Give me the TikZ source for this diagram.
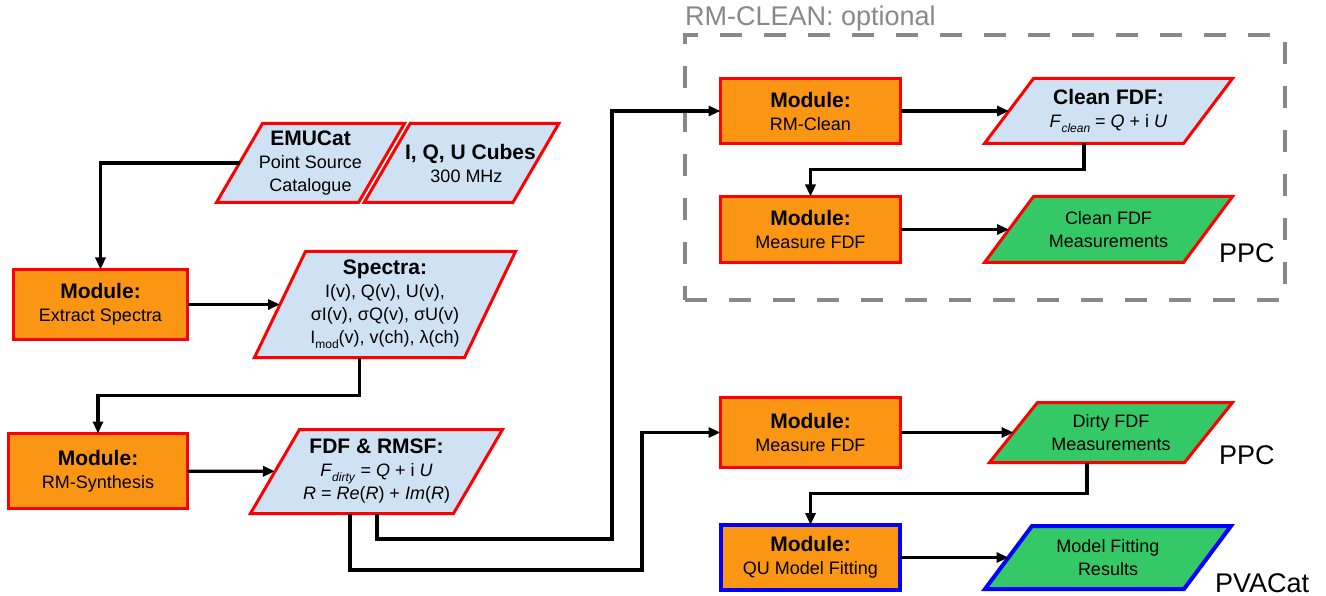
\documentclass[tikz,border=0pt]{standalone}
\usepackage{fontspec}
\setmainfont{Liberation Sans}
\usetikzlibrary{arrows.meta,calc,backgrounds}

\definecolor{modorange}{RGB}{250,150,20}
\definecolor{datablue}{RGB}{207,226,243}
\definecolor{prodgreen}{RGB}{53,200,103}
\definecolor{fitblue}{RGB}{0,0,255}
\definecolor{framegray}{RGB}{136,136,136}

% bold first line of a box
\newcommand\hd[1]{{\fontsize{21}{23}\selectfont\bfseries #1}}
% small lowered subscript
\newcommand\lowsub[1]{\raisebox{-5pt}{\fontsize{12}{12}\selectfont #1}}
% parallelogram drawn round a text slot: node, skew, fill, border, width
\newcommand\slantframe[5]{%
  \filldraw[fill=#3, draw=#4, line width=#5, line join=miter]
    ($(#1.south west)+(-#2/2,0)$) -- ($(#1.south east)+(-#2/2,0)$) --
    ($(#1.north east)+(#2/2,0)$) -- ($(#1.north west)+(#2/2,0)$) -- cycle;}

\begin{document}
\begin{tikzpicture}[x=1pt,y=-1pt,
  txt/.style={font=\fontsize{18}{23}\selectfont, align=center, inner sep=0pt, outer sep=0pt},
  modbox/.style={txt, rectangle, draw=red, line width=3pt, fill=modorange},
  fitbox/.style={modbox, draw=fitblue, line width=4pt},
  slot/.style={txt, rectangle},
  link/.style={line width=3.2pt},
  arr/.style={link, -{Triangle[length=12pt,width=10pt]}},
  side/.style={anchor=base west, inner sep=0pt, font=\fontsize{27}{30}\selectfont}]

\useasboundingbox (0,0) rectangle (1326,596);

% optional RM-CLEAN stage
\node[draw=framegray, line width=4pt, dash pattern=on 22pt off 22pt,
      minimum width=600pt, minimum height=265pt, inner sep=0pt] (frame) at (985,167.5) {};
\node[side, text=framegray] (cleanlabel) at (685,26) {RM-CLEAN: optional};

% modules
\node[modbox, minimum width=174pt, minimum height=70pt] (ext) at (100.5,304.5) {\hd{Module:}\\Extract Spectra};
\node[modbox, minimum width=179pt, minimum height=75pt] (rms) at (98,471) {\hd{Module:}\\RM-Synthesis};
\node[modbox, minimum width=180pt, minimum height=65pt] (rmc) at (810.5,111) {\hd{Module:}\\RM-Clean};
\node[modbox, minimum width=180pt, minimum height=66pt] (mclean) at (810.5,229.5) {\hd{Module:}\\Measure FDF};
\node[modbox, minimum width=180pt, minimum height=70pt] (mdirty) at (810.5,432.5) {\hd{Module:}\\Measure FDF};
\node[fitbox, minimum width=179pt, minimum height=65pt] (qu) at (810.5,557.5) {\hd{Module:}\\QU Model Fitting};

% data products (text slots inside parallelograms)
\node[slot, minimum width=142pt, minimum height=79pt] (emu) at (310.5,163) {\hd{EMUCat}\\Point Source\\Catalogue};
\node[slot, minimum width=144pt, minimum height=79pt] (iqu) at (461.5,163)
  {\hspace*{18pt}\hd{I, Q, U Cubes}\\\hspace*{10pt}300 MHz};
\node[slot, minimum width=210pt, minimum height=106pt] (spec) at (385,304.5)
  {\hd{Spectra:}\\I(v), Q(v), U(v),\\σI(v), σQ(v), σU(v)\\I\lowsub{mod}(v), v(ch), λ(ch)};
\node[slot, minimum width=203pt, minimum height=84pt] (fdf) at (376.5,471.5)
  {\hd{FDF \& RMSF:}\\\textit{F}\lowsub{\textit{dirty}} = \textit{Q} + i \textit{U}\\\textit{R} = \textit{Re}(\textit{R}) + \textit{Im}(\textit{R})};
\node[slot, minimum width=199pt, minimum height=65pt] (cfdf) at (1108.5,111)
  {\hd{Clean FDF:}\\\textit{F}\lowsub{\textit{clean}} = \textit{Q} + i \textit{U}};
\node[slot, minimum width=199pt, minimum height=66pt] (cmeas) at (1108.5,229.5) {Clean FDF\\Measurements};
\node[slot, minimum width=195pt, minimum height=60pt] (dmeas) at (1111,432.5) {Dirty FDF\\Measurements};
\node[slot, minimum width=199pt, minimum height=63pt] (mfit) at (1108,557.5) {Model Fitting\\Results};

\begin{scope}[on background layer]
  \slantframe{emu}{46}{datablue}{red}{3pt}
  \slantframe{iqu}{46}{datablue}{red}{3pt}
  \slantframe{spec}{51}{datablue}{red}{3pt}
  \slantframe{fdf}{49}{datablue}{red}{3pt}
  \slantframe{cfdf}{49}{datablue}{red}{3pt}
  \slantframe{cmeas}{49}{prodgreen}{red}{3pt}
  \slantframe{dmeas}{48}{prodgreen}{red}{3pt}
  \slantframe{mfit}{47}{prodgreen}{fitblue}{4pt}
\end{scope}

% catalogue labels
\node[side] (ppcclean) at (1219,263) {PPC};
\node[side] (ppcdirty) at (1219,464) {PPC};
\node[side] (pvacat) at (1215,592) {PVACat};

% routing points of the two long links
\coordinate (busclean) at (612,539);
\coordinate (busdirty) at (642,570);

% connectors (the bottom side of a slanted box is centred skew/2 left of its slot)
\draw[arr] (emu.west) -| (ext.north);
\draw[arr] (ext) -- (spec);
\draw[arr] ([xshift=-25.5pt]spec.south) -- ++(0,38) -| (rms.north);
\draw[arr] (rms) -- (fdf);
\draw[arr] ([xshift=0.5pt]fdf.south) |- (busclean) |- (rmc.west);
\draw[arr] ([xshift=-26.5pt]fdf.south) |- (busdirty) |- (mdirty.west);
\draw[arr] (rmc) -- (cfdf);
\draw[arr] ([xshift=-24.5pt]cfdf.south) -- ++(0,26) -| (mclean.north);
\draw[arr] (mclean) -- (cmeas);
\draw[arr] (mdirty) -- (dmeas);
\draw[arr] ([xshift=-24pt]dmeas.south) -- ++(0,31) -| (qu.north);
\draw[arr] (qu) -- (mfit);
\end{tikzpicture}
\end{document}
